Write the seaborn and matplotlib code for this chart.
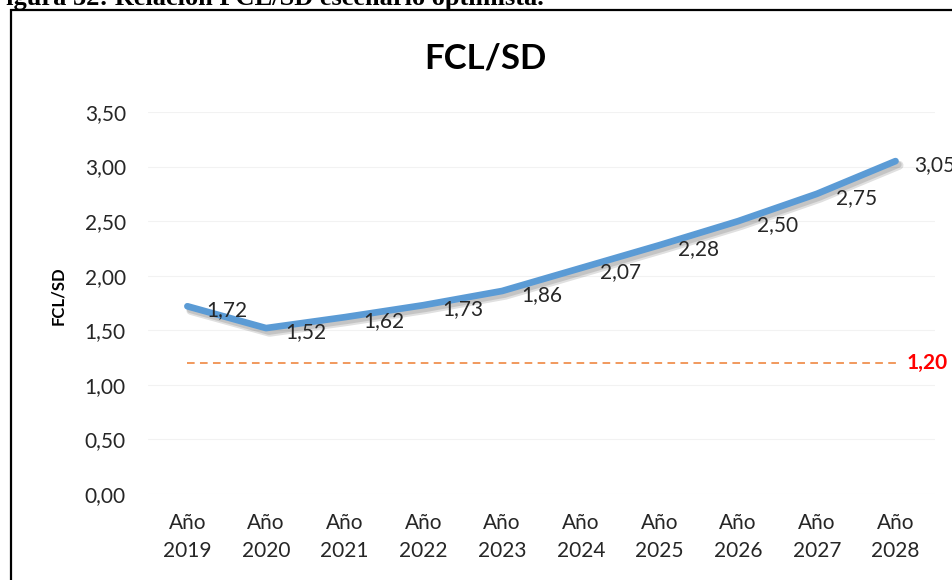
import matplotlib
matplotlib.use("Agg")
import matplotlib.pyplot as plt
import matplotlib.patheffects as pe
from matplotlib.patches import Rectangle
from matplotlib.ticker import FuncFormatter, MultipleLocator
import seaborn as sns
import pandas as pd

# Data
years = ["2019", "2020", "2021", "2022", "2023", "2024", "2025", "2026", "2027", "2028"]
fcl_sd = [1.72, 1.52, 1.62, 1.73, 1.86, 2.07, 2.28, 2.50, 2.75, 3.05]
minimum_ratio = 1.20

categories = [f"Año\n{y}" for y in years]
df = pd.DataFrame({"periodo": categories, "ratio": fcl_sd,
                   "minimo": [minimum_ratio] * len(years)})

sns.set_theme(style="white")
plt.rcParams["font.family"] = ["Lato", "DejaVu Sans"]

fig = plt.figure(figsize=(9.52, 5.8), dpi=100)
ax = fig.add_axes([0.1555, 0.1483, 0.8265, 0.6586])

# Threshold reference line
sns.lineplot(data=df, x="periodo", y="minimo", ax=ax, color="#ED7D31",
             linewidth=1.1, sort=False)
ax.lines[-1].set_dashes([5, 3.5])

# Main ratio line with soft shadow
sns.lineplot(data=df, x="periodo", y="ratio", ax=ax, color="#5B9BD5",
             linewidth=4.8, sort=False)
main_line = ax.lines[-1]
main_line.set_solid_capstyle("round")
main_line.set_solid_joinstyle("round")
main_line.set_path_effects([
    pe.SimpleLineShadow(offset=(2.5, -3), shadow_color="#000000", alpha=0.12,
                        linewidth=6.5),
    pe.SimpleLineShadow(offset=(2, -2.5), shadow_color="#000000", alpha=0.12),
    pe.Normal(),
])

def fmt(v):
    return f"{v:.2f}".replace(".", ",")

for i, v in enumerate(fcl_sd):
    ax.annotate(fmt(v), (i, v), xytext=(19, -4), textcoords="offset pixels",
                ha="left", va="center", fontsize=15, color="#262626",
                annotation_clip=False)

ax.annotate(fmt(minimum_ratio), (len(years) - 1, minimum_ratio),
            xytext=(11, 0), textcoords="offset pixels", ha="left",
            va="center", fontsize=15, fontweight="bold", color="#FF0000",
            annotation_clip=False)

ax.set_xlim(-0.5, len(years) - 0.5)
ax.set_ylim(0, 3.5)
ax.yaxis.set_major_locator(MultipleLocator(0.5))
ax.yaxis.set_major_formatter(FuncFormatter(lambda v, p: fmt(v)))
ax.grid(axis="y", color="#F2F2F2", linewidth=0.8)
ax.grid(axis="x", visible=False)
for s in ax.spines.values():
    s.set_visible(False)

ax.tick_params(axis="y", length=0, pad=16, labelsize=15, labelcolor="#262626")
ax.tick_params(axis="x", length=0, pad=14, labelsize=15, labelcolor="#262626")
for lbl in ax.get_xticklabels():
    lbl.set_linespacing(1.45)

ax.set_xlabel("")
ax.set_ylabel("FCL/SD", fontsize=12, fontweight="bold", color="#000000")
ax.yaxis.set_label_coords(-0.104, 0.52)

fig.text(0.51, 0.90, "FCL/SD", ha="center", va="center", fontsize=25,
         fontweight="bold", color="#000000")

# Document caption above the chart frame
fig.text(-0.01, 1 - 5 / 580, "Figura 32: Relación FCL/SD escenario optimista.",
         ha="left", va="baseline", fontsize=19, fontweight="bold",
         family="Liberation Serif", color="#000000")

# Chart frame
fig.patches.append(Rectangle((10.5 / 952, -0.05), 1.0, 1.05 - 9.5 / 580,
                             transform=fig.transFigure, fill=False,
                             edgecolor="#000000", linewidth=1.6))

fig.savefig("out.png", dpi=100)
